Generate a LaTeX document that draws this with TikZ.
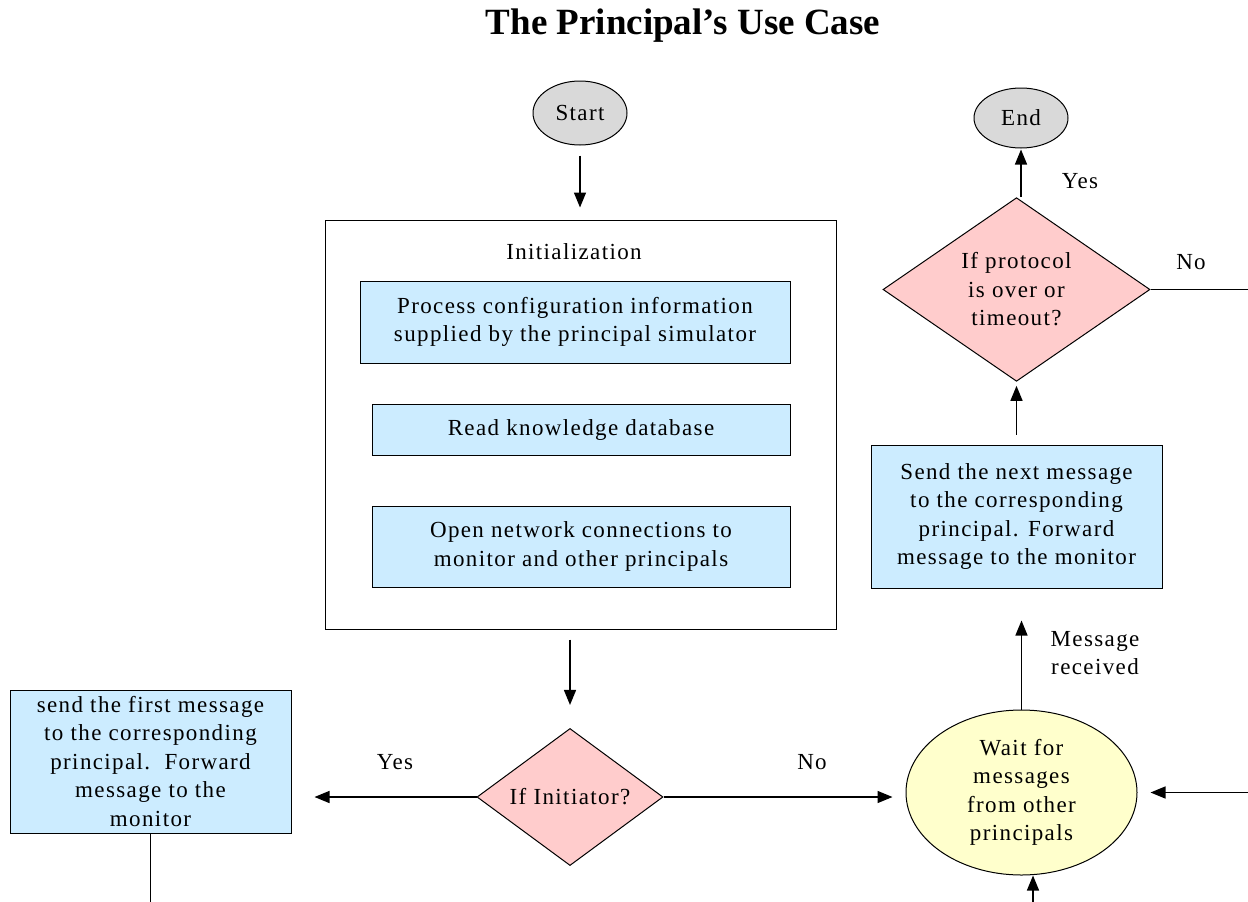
\documentclass[tikz,border=0pt]{standalone}
\usepackage{fontspec}
\setmainfont{Liberation Serif}
\newfontfamily\weit[LetterSpace=6]{Liberation Serif}
\usetikzlibrary{shapes.geometric,arrows.meta}
\definecolor{hellblau}{HTML}{CCECFF}
\definecolor{rosa}{HTML}{FFCCCC}
\definecolor{hellgelb}{HTML}{FFFFCC}
\definecolor{hellgrau}{HTML}{D9D9D9}

\begin{document}
\begin{tikzpicture}[
      x=1pt, y=-1pt,
      line width=1.4pt,
      pfeil/.style={-{Triangle[length=15pt,width=12pt]}},
      schrift/.style={font=\weit\fontsize{23}{28.5}\selectfont, align=center},
      kasten/.style={rectangle, draw, fill=hellblau, line width=1pt,
        inner sep=0pt, schrift},
      raute/.style={diamond, draw, fill=rosa, line width=1pt,
        inner sep=0pt, schrift},
      oval/.style={ellipse, draw, line width=1pt, inner sep=0pt, schrift},
      marke/.style={schrift}
    ]
    \useasboundingbox (0,0) rectangle (1248,902);
    \node[font=\bfseries\fontsize{37}{40}\selectfont] (titel) at (683,26)
      {The Principal's Use Case};
    % start and init block
    \path (580,113) node(start) [oval, fill=hellgrau,
        minimum width=94pt, minimum height=64pt] {Start}
    (580.5,424.5) node(init) [rectangle, draw, line width=1pt,
        minimum width=511pt, minimum height=409pt] {}
    (574,252) node(initlabel) [marke] {Initialization}
    (575,322) node(konfig) [kasten, minimum width=430pt, minimum height=82pt]
        {Process configuration information\\supplied by the principal simulator}
    (581,429.5) node(wissen) [kasten, minimum width=418pt, minimum height=51pt]
        {Read knowledge database}
    (581,546.5) node(netz) [kasten, minimum width=418pt, minimum height=81pt]
        {Open network connections to\\monitor and other principals};
    % lower part
    \path (570,797) node(initiator) [raute, minimum width=186pt,
        minimum height=132pt] {If Initiator?}
    (150.5,761.5) node(erste) [kasten, minimum width=281pt, minimum height=143pt]
        {send the first message\\to the corresponding\\principal.\ \ Forward\\message to the\\monitor}
    (1021.5,792.5) node(warten) [oval, fill=hellgelb,
        minimum width=231pt, minimum height=165pt]
        {Wait for\\messages\\from other\\principals}
    (1016.5,516.5) node(naechste) [kasten, minimum width=291pt, minimum height=143pt]
        {Send the next message\\to the corresponding\\principal. Forward\\message to the monitor}
    (1016.5,289.5) node(frage) [raute, minimum width=267pt,
        minimum height=181pt] {If protocol\\is over or\\timeout?}
    (1021,118) node(ende) [oval, fill=hellgrau,
        minimum width=94pt, minimum height=60pt] {End};
    % labels
    \path (395,762) node(ja1) [marke] {Yes}
    (812,762) node(nein1) [marke] {No}
    (1080,181) node(ja2) [marke] {Yes}
    (1191,262) node(nein2) [marke] {No}
    (1095,653) node(empfangen) [marke] {Message\\received};
    \coordinate (unten1) at (151,902);
    \coordinate (unten2) at (1033,902);
    \coordinate (rechts1) at (1248,792);
    \coordinate (rechts2) at (1248,291);
    % connectors
    \draw[pfeil, shorten <=10pt, shorten >=12pt] (start) -- (start |- init.north);
    \draw[pfeil, shorten <=10pt, shorten >=23pt] (init.south -| initiator) -- (initiator.north);
    \draw[pfeil, shorten >=23pt] (initiator.west) -- (initiator.west -| erste.east);
    \draw[pfeil, shorten >=13pt] (initiator.east) -- (initiator.east -| warten.west);
    \draw (erste.south) -- (erste.south |- unten1);
    \draw[pfeil, shorten >=13pt] (rechts1 |- warten.east) -- (warten.east);
    \draw[pfeil] (unten2) -- (unten2 |- warten.south);
    \draw[pfeil, shorten >=32pt] (warten.north) -- (warten.north |- naechste.south);
    \draw[pfeil, shorten <=10pt, shorten >=4pt] (naechste.north) -- (naechste.north |- frage.south);
    \draw[pfeil, shorten >=1pt] (frage.north -| ende) -- (ende.south);
    \draw (frage.east) -- (frage.east -| rechts2);
  \end{tikzpicture}
\end{document}
